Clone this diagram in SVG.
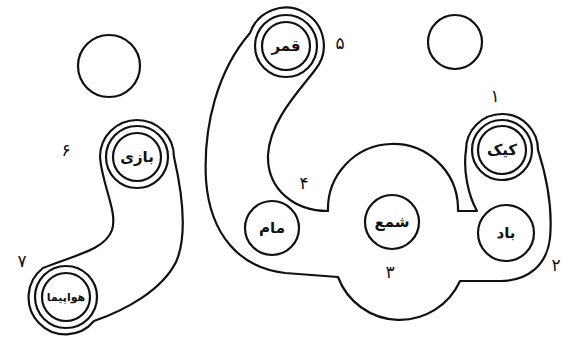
<svg xmlns="http://www.w3.org/2000/svg" width="562" height="340" viewBox="0 0 562 340">
<style>
.ln{fill:none;stroke:#111;stroke-width:2.2;stroke-linejoin:round;stroke-linecap:round}
.w{font-family:"DejaVu Sans","Noto Sans",sans-serif;font-size:15px;font-weight:bold;fill:#111;text-anchor:middle;dominant-baseline:central}
.n{font-family:"DejaVu Sans","Noto Sans",sans-serif;font-size:17px;fill:#111;text-anchor:middle;dominant-baseline:central}
</style>
<rect width="562" height="340" fill="#fff"/>
<g id="empty-left"><circle class="ln" cx="109" cy="66" r="31"/></g>
<g id="empty-right"><circle class="ln" cx="455" cy="42" r="27"/></g>
<g id="blob-left">
<path class="ln" d="M100 157 A37 37 0 0 1 174 157 C182 192 188 235 176 262 C162 290 126 310 94 321 A37 37 0 1 1 43 268 C75 255 105 250 112 230 C118 212 102 185 100 157 Z"/>
<text class="n" x="66" y="150">۶</text>
<text class="n" x="22" y="261">۷</text>
</g>
<g id="node-bazi"><circle class="ln" cx="137" cy="157" r="31"/><circle class="ln" cx="137" cy="157" r="24"/><text class="w" x="137" y="157">بازی</text></g>
<g id="node-havapeyma"><circle class="ln" cx="66" cy="297" r="31"/><circle class="ln" cx="66" cy="297" r="24"/><text class="w" x="66" y="297" style="font-size:11px">هواپیما</text></g>
<g id="blob-center">
<path class="ln" d="M338 277 L285 273 C240 268 210 235 206 180 C203 125 218 70 250 33 A38 38 0 1 1 315 70 C300 90 270 120 268 155 C267 190 295 211 328 211 A65 65 0 0 1 458 207 L458 211 L477 211 C468 195 463 170 466 150 A36 36 0 0 1 538 150 C546 175 553 205 550 238 C547 265 528 281 500 281 L460 281 A66 66 0 0 1 338 277 Z"/>
<text class="n" x="340" y="43">۵</text>
<text class="n" x="495" y="96">۱</text>
<text class="n" x="304" y="183">۴</text>
<text class="n" x="390" y="272">۳</text>
<text class="n" x="556" y="265">۲</text>
</g>
<g id="node-ghamar"><circle class="ln" cx="286" cy="46" r="31"/><circle class="ln" cx="286" cy="46" r="24"/><text class="w" x="286" y="46">قمر</text></g>
<g id="node-mam"><circle class="ln" cx="272" cy="228" r="27"/><text class="w" x="272" y="228">مام</text></g>
<g id="node-sham"><circle class="ln" cx="392" cy="222" r="27"/><text class="w" x="392" y="222">شمع</text></g>
<g id="node-keyk"><circle class="ln" cx="502" cy="150" r="30"/><circle class="ln" cx="502" cy="150" r="24"/><text class="w" x="502" y="150">کیک</text></g>
<g id="node-bad"><circle class="ln" cx="506" cy="233" r="28"/><text class="w" x="506" y="233">باد</text></g>
<g id="connectors"/>
</svg>
